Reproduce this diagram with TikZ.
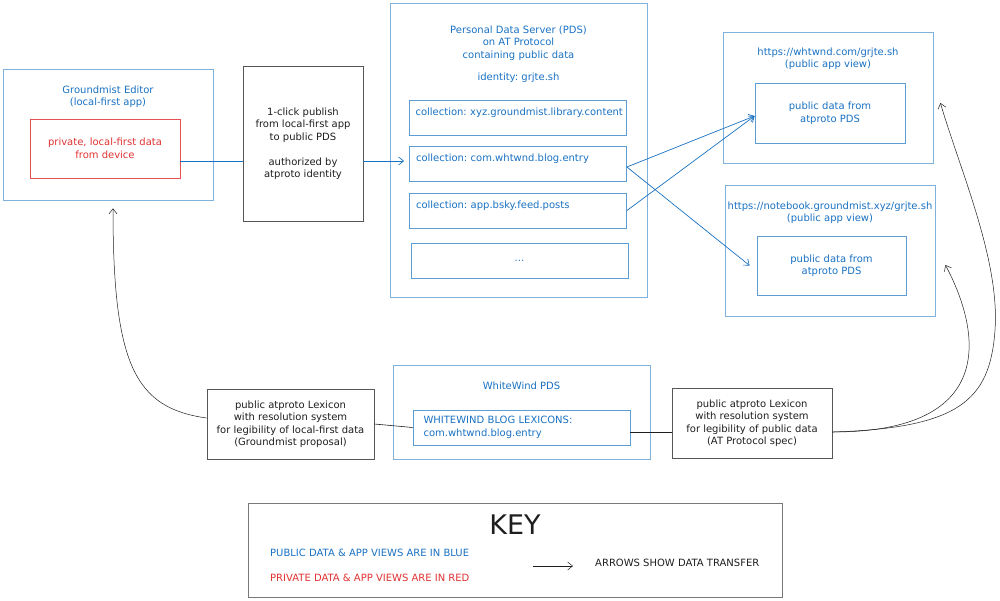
\documentclass[tikz,border=0pt]{standalone}
\usepackage{fontspec}
\setmainfont{DejaVu Sans}
\usetikzlibrary{arrows.meta,positioning}
\definecolor{publicblue}{HTML}{1971C2}
\definecolor{privatered}{HTML}{E03131}
\definecolor{inkgray}{HTML}{1E1E1E}
\frenchspacing

\begin{document}
\begin{tikzpicture}[
    x=1pt, y=-1pt,
    font=\fontsize{10}{12.5}\selectfont,
    panel/.style={rectangle, draw=publicblue!55, line width=0.8pt},
    paneltitle/.style={text=publicblue, align=center},
    publicbox/.style={rectangle, draw=publicblue!70, line width=0.8pt, text=publicblue, align=center},
    privatebox/.style={rectangle, draw=privatered!85, line width=0.8pt, text=privatered, align=center},
    notebox/.style={rectangle, draw=inkgray!75, line width=0.8pt, text=inkgray, align=center},
    collection/.style={publicbox, minimum width=217pt, minimum height=35pt, text width=204pt, align=left},
    keytext/.style={anchor=west, inner sep=0pt, font=\fontsize{10}{12}\selectfont},
    flow/.style={->, >={Straight Barb[length=5pt,width=8pt]}, draw=publicblue, line width=0.7pt},
    link/.style={draw=publicblue, line width=0.7pt},
    lexflow/.style={->, >={Straight Barb[length=5pt,width=8pt]}, draw=inkgray, line width=0.5pt},
    lexlink/.style={draw=inkgray, line width=0.6pt}
]
\useasboundingbox (0,0) rectangle (1000,600);

% Left side: local-first editor
\node[panel, minimum width=210pt, minimum height=131pt] (editor_box) at (108,134.5) {};
\node[paneltitle] (editor_title) at (108,96.5) {Groundmist Editor\\(local-first app)};
\node[privatebox, minimum width=150pt, minimum height=59pt] (private_data) at (105,148.5) {private, local-first data\\from device};

\node[notebox, minimum width=120pt, minimum height=155pt] (publish_box) at (303,143.5) {1-click publish\\from local-first app\\to public PDS\\[12.5pt]authorized by\\atproto identity};

% Middle: personal data server
\node[panel, minimum width=257pt, minimum height=294pt] (pds_box) at (518.5,150) {};
\node[paneltitle] (pds_title) at (518.5,43) {Personal Data Server (PDS)\\on AT Protocol\\containing public data};
\node[paneltitle] (pds_identity) at (518.5,78) {identity: grjte.sh};

\node[collection, text depth=12pt] (coll_library) at (517.5,117.5) {\mbox{collection: xyz.groundmist.library.content}};
\node[collection, text depth=12pt] (coll_whtwnd) at (518,163.5) {collection: com.whtwnd.blog.entry};
\node[collection, text depth=12pt] (coll_bsky) at (518,210.5) {collection: app.bsky.feed.posts};
\node[collection, align=center] (coll_more) at (519.5,260.5) {...};

% Right side: public app views
\node[panel, minimum width=210pt, minimum height=131pt] (whtwnd_view) at (828,97.5) {};
\node[paneltitle] (whtwnd_title) at (828,58.5) {https://whtwnd.com/grjte.sh\\(public app view)};
\node[publicbox, minimum width=150pt, minimum height=60pt] (whtwnd_data) at (830,113) {public data from\\atproto PDS};

\node[panel, minimum width=210pt, minimum height=131pt] (notebook_view) at (830,250.5) {};
\node[paneltitle] (notebook_title) at (830,212.5) {https://notebook.groundmist.xyz/grjte.sh\\(public app view)};
\node[publicbox, minimum width=149pt, minimum height=59pt] (notebook_data) at (831.5,265.5) {public data from\\atproto PDS};

% Bottom row: lexicons
\node[notebox, minimum width=167pt, minimum height=70pt] (lex_local) at (290.5,424) {public atproto Lexicon\\with resolution system\\for legibility of local-first data\\(Groundmist proposal)};

\node[panel, minimum width=257pt, minimum height=94pt] (ww_pds) at (521.5,412) {};
\node[paneltitle] (ww_title) at (521.5,386) {WhiteWind PDS};
\node[publicbox, minimum width=217pt, minimum height=35pt, text width=196pt, align=left] (ww_lexicons) at (521.5,427.5) {WHITEWIND BLOG LEXICONS:\\com.whtwnd.blog.entry};

\node[notebox, minimum width=160pt, minimum height=70pt] (lex_public) at (752,423) {public atproto Lexicon\\with resolution system\\for legibility of public data\\(AT Protocol spec)};

% Data transfer
\draw[link] ([yshift=-12.5pt]private_data.east) -- ([yshift=-17.5pt]publish_box.west);
\draw[flow] ([yshift=-17.5pt]publish_box.east) -- ([xshift=-5pt,yshift=2.5pt]coll_whtwnd.west);

\draw[flow] ([yshift=-3.5pt]coll_whtwnd.east) -- ([yshift=-3pt]whtwnd_data.west);
\draw[flow] (coll_bsky.east) -- ([yshift=-3pt]whtwnd_data.west);
\draw[flow] ([yshift=-3.5pt]coll_whtwnd.east) -- ([xshift=-7pt]notebook_data.west);

% Lexicon links
\draw[lexflow] ([yshift=6pt]lex_local.west) .. controls (135,408) and (113,365) .. ([xshift=5pt,yshift=-8pt]editor_box.south);
\draw[lexlink] (lex_local.east) -- (ww_lexicons.west);
\draw[lexlink] ([yshift=-4.5pt]ww_lexicons.east) -- ([yshift=-9pt]lex_public.west);
\draw[lexflow] ([yshift=-9pt]lex_public.east) .. controls (960,428) and (990,400) .. (995,330) .. controls (1000,260) and (960,170) .. ([xshift=7pt,yshift=-5.5pt]whtwnd_view.east);
\draw[lexflow] ([yshift=-9pt]lex_public.east) .. controls (1000,432) and (980,330) .. ([xshift=10pt,yshift=-14.5pt]notebook_view.east);

% Key
\node[rectangle, draw=inkgray!60, line width=0.8pt, minimum width=534pt, minimum height=94pt] (key_box) at (515,550) {};
\node[font=\fontsize{27}{30}\selectfont, text=inkgray] (key_title) at (515,525) {KEY};
\node[keytext, text=publicblue] (key_public) at (270,553) {PUBLIC DATA \& APP VIEWS ARE IN BLUE};
\node[keytext, text=privatered] (key_private) at (270,578) {PRIVATE DATA \& APP VIEWS ARE IN RED};
\coordinate (key_arrow_start) at (533,566);
\coordinate (key_arrow_end) at (573,566);
\draw[lexflow] (key_arrow_start) -- (key_arrow_end);
\node[keytext, text=inkgray] (key_arrows) at (595,563) {ARROWS SHOW DATA TRANSFER};

\end{tikzpicture}
\end{document}
